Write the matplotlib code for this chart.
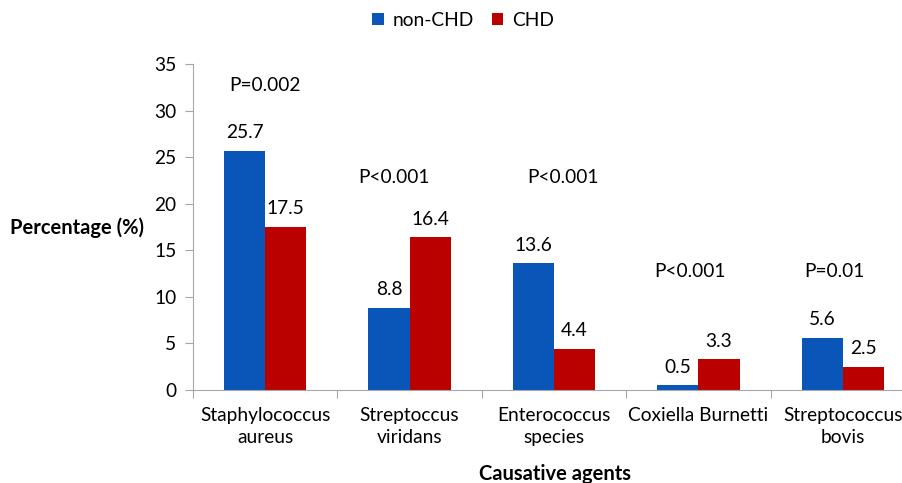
import matplotlib
matplotlib.use("Agg")
import matplotlib.pyplot as plt
import numpy as np

categories = ["Staphylococcus\naureus", "Streptoccus\nviridans", "Enterococcus\nspecies",
              "Coxiella Burnetti", "Streptococcus\nbovis"]
non_chd = [25.7, 8.8, 13.6, 0.5, 5.6]
chd = [17.5, 16.4, 4.4, 3.3, 2.5]
p_labels = ["P=0.002", "P<0.001", "P<0.001", "P<0.001", "P=0.01"]
p_heights = [32.7, 22.8, 22.8, 12.7, 12.7]
p_offsets = [0.0, -0.11, 0.06, -0.06, -0.06]

plt.rcParams['font.family'] = ['Lato', 'DejaVu Sans']
BLUE = "#0A56B8"
RED = "#BB0000"
GRAY = "#A6A6A6"
FS = 13.8

fig = plt.figure(figsize=(9.03, 4.83), dpi=100)
ax = fig.add_axes([193/903, 1-390/483, (915-193)/903, (390-64)/483])

x = np.arange(len(categories))
w = 0.285
b1 = ax.bar(x - w/2, non_chd, w, color=BLUE, label="non-CHD")
b2 = ax.bar(x + w/2, chd, w, color=RED, label="CHD")

for bars, vals in ((b1, non_chd), (b2, chd)):
    for r, v in zip(bars, vals):
        ax.annotate(f"{v}", (r.get_x() + r.get_width()/2, v), xytext=(0, 7),
                    textcoords="offset points", ha="center", va="bottom", fontsize=FS)

for xi, lab, h, off in zip(x, p_labels, p_heights, p_offsets):
    ax.text(xi + off, h, lab, ha="center", va="center", fontsize=FS)

ax.set_xlim(-0.5, len(categories) - 0.5)
ax.set_ylim(0, 35)
ax.set_yticks(range(0, 36, 5))
ax.set_xticks(np.arange(-0.5, len(categories), 1.0))
ax.set_xticklabels([])
ax.set_xticks(x, minor=True)
ax.set_xticklabels(categories, minor=True, fontsize=FS, linespacing=1.35)
ax.tick_params(axis="x", which="minor", length=0, pad=12)
ax.tick_params(axis="x", which="major", length=6, color=GRAY, direction="out")
ax.tick_params(axis="y", length=6, color=GRAY, labelsize=FS, pad=6)

for s in ("top", "right"):
    ax.spines[s].set_visible(False)
for s in ("left", "bottom"):
    ax.spines[s].set_color(GRAY)

fig.text(10/903, 1-228/483, "Percentage (%)", fontsize=14.5, fontweight="bold", va="center", ha="left")
fig.text(555/903, 1-474/483, "Causative agents", fontsize=14.5, fontweight="bold", va="center", ha="center")

fig.legend(handles=[b1, b2], loc="center", bbox_to_anchor=(463/903, 1-20/483), ncol=2,
           frameon=False, fontsize=FS, handlelength=0.6, handleheight=0.6,
           handletextpad=0.45, columnspacing=0.95)

fig.savefig("out.png", dpi=100)
